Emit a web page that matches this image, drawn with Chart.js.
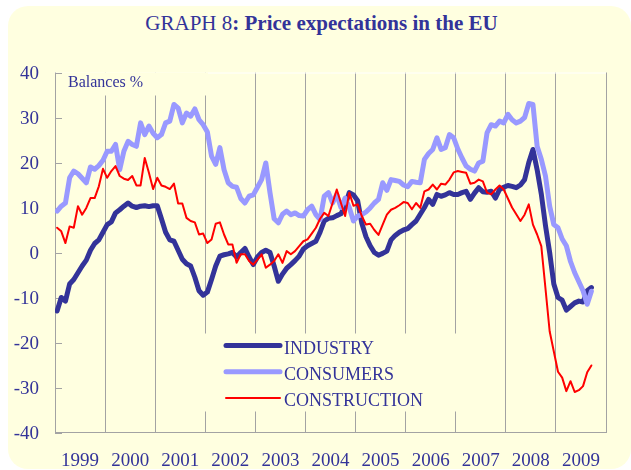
<!DOCTYPE html>
<html>
<head>
<meta charset="utf-8">
<title>Price expectations in the EU</title>
<script src="https://cdn.jsdelivr.net/npm/chart.js@4.4.0/dist/chart.umd.min.js"></script>
<style>
  html, body { margin: 0; padding: 0; background: #ffffff; }
  #wrap { position: relative; width: 631px; height: 470px; overflow: hidden; }
  #card { position: absolute; left: 8px; top: 6px; width: 623px; height: 463px; background: #ffffe0; border-radius: 20px; }
  #title { position: absolute; left: 0; top: 11px; width: 643px; text-align: center;
           font: 21px 'Liberation Serif', 'Times New Roman', serif; color: #333399; line-height: normal; }
  #title b { font-weight: bold; }
  canvas { position: absolute; left: 0; top: 0; }
</style>
</head>
<body>
<div id="wrap">
  <div id="card"></div>
  <div id="title">GRAPH 8<b>: Price expectations in the EU</b></div>
  <canvas id="chart" width="631" height="470"></canvas>
</div>
<script>
// Years on the x axis (monthly data, Jan 1999 - Sep 2009)
const years = ['1999', '2000', '2001', '2002', '2003', '2004', '2005', '2006', '2007', '2008', '2009'];
const seriesNames = ['INDUSTRY', 'CONSUMERS', 'CONSTRUCTION'];

// Balances %, one value per month
const industry = [
  -13, -10, -10.8, -7, -6, -4.5, -3, -1.7, 0.5, 2, 2.8, 4.5,
  6.2, 6.8, 8.8, 9.5, 10.3, 11, 10.3, 10, 10.3, 10.4, 10.2, 10.4,
  10.4, 7.5, 4.5, 2.8, 2.5, 0.5, -1.5, -2.5, -3, -5.5, -8.5, -9.5,
  -8.8, -6, -3, -0.8, -0.5, -0.3, 0, -1, 0, 0.9, -1, -2.7,
  -1, 0, 0.5, 0, -3, -6.4, -4.8, -3.5, -2.7, -1.8, -0.8, 0.8,
  1.5, 2, 2.5, 4.5, 7, 7.6, 7.7, 8.2, 8.6, 10.5, 13.3, 12.8,
  11.5, 6.5, 3.5, 1.5, 0, -0.6, -0.2, 0.3, 2.8, 3.8, 4.5, 5,
  5.3, 6.2, 7, 8.5, 10, 11.8, 10.7, 12.9, 12.5, 12.8, 13.3, 12.9,
  12.9, 13.3, 13.6, 11.8, 13.2, 14.4, 13.5, 13.4, 13.6, 12.1, 14, 14.5,
  14.9, 14.7, 14.4, 15, 16.2, 20, 22.9, 18.4, 13, 6, 0, -7,
  -10, -10.6, -12.8, -12, -11.2, -10.8, -11, -8.5, -7.8
];
const consumers = [
  9.2, 10.3, 11, 16.6, 18.1, 17.5, 16.5, 15.5, 19, 18.5, 19.3, 20.5,
  22.5, 22.5, 24, 18.4, 22.5, 24.7, 24, 23.6, 28.8, 26.2, 28.1, 26.5,
  25.5, 26.2, 28.8, 29.2, 32.9, 32.1, 28.8, 31, 30.3, 31.9, 29.5, 28.4,
  26.8, 21.4, 19.6, 23.3, 18.4, 15.5, 14.7, 14.5, 12, 11, 12.5, 12.8,
  14.5, 16.2, 19.9, 13.3, 7.5, 6.6, 8.5, 9.2, 8.4, 8.8, 8.2, 8.1,
  9.5, 10.3, 8.4, 7.3, 12.5, 13.3, 11, 12.9, 10, 12.1, 10, 7,
  8.1, 8.4, 9, 9.9, 11, 11.8, 15.5, 13.8, 16.2, 16, 15.8, 15,
  14.6, 15.8, 15.6, 15.5, 20.7, 22, 22.9, 25.5, 22.9, 23.3, 26.2, 25.5,
  23, 21, 19.2, 18.5, 18.1, 19.9, 20.3, 26.6, 28.4, 28.1, 29.2, 28.8,
  30.7, 29.5, 28.8, 29.2, 30, 33.1, 32.9, 23.6, 20.7, 17, 10.3, 6.2,
  5.5, 3, 1.5, -2, -4.5, -6.5, -8.5, -11.5, -8.6
];
const construction = [
  5.5, 4.7, 2.1, 5.8, 5.5, 10.3, 8.4, 9.9, 12.1, 12.1, 14.7, 18.6,
  16.6, 18.1, 19.2, 17, 16.4, 16.1, 17, 14.9, 14.9, 21, 17.7, 14.1,
  16.6, 14.9, 14.6, 14.1, 15.3, 10.9, 10.9, 7.7, 7, 6.7, 4, 4.2,
  2.1, 2.9, 6.4, 6.7, 4, 1.8, 1.8, -2.3, -0.4, -0.4, -1.9, -2.7,
  -1.6, -0.4, -3.4, -2.7, -1.9, -0.4, -2.3, 0.3, -0.4, 0.3, 1.4, 2.5,
  2.9, 4.2, 5.5, 7.5, 8.8, 8.1, 11, 14, 11, 8.1, 13.3, 10.4,
  10.7, 8.1, 6.2, 6.4, 5, 3.9, 6.2, 8.4, 9.5, 9.9, 10.5, 11.2,
  11, 9.6, 11, 9.9, 13.6, 14, 15.1, 14, 15.3, 15.1, 16.2, 17.8,
  18.1, 17.9, 17.7, 15.3, 15.5, 16.2, 15.8, 13.3, 12.9, 14, 14.9, 14,
  12, 10, 8.5, 7, 8.4, 10.7, 6.2, 4, 1.4, -8, -17.5, -22,
  -26.5, -27.8, -30.8, -28.6, -31, -30.6, -29.7, -26.6, -25.1
];

const textColor = '#333399';
const gridColor = '#a3a3a3';
const cream = '#ffffe0';
const serif = "'Liberation Serif', 'Times New Roman', serif";

const styles = [
  { color: '#333399', width: 5 },
  { color: '#9999ff', width: 5 },
  { color: '#ff0000', width: 2 }
];

// one point per month, placed in the middle of its month
const toPoints = arr => arr.map((v, i) => ({ x: i + 0.5, y: v }));

const decor = {
  id: 'decor',
  beforeDatasetsDraw(chart) {
    const { ctx, chartArea: a, scales: { x, y } } = chart;
    ctx.save();

    // white top edge of the plot
    ctx.strokeStyle = '#ffffff';
    ctx.lineWidth = 1;
    ctx.beginPath();
    ctx.moveTo(a.left, a.top + 0.5);
    ctx.lineTo(a.right, a.top + 0.5);
    ctx.stroke();

    // "Balances %" label box
    ctx.fillStyle = cream;
    ctx.fillRect(a.left + 1, a.top, 152, 23);
    ctx.fillStyle = textColor;
    ctx.font = '16px ' + serif;
    ctx.textBaseline = 'alphabetic';
    ctx.fillText('Balances %', a.left + 13, a.top + 14);

    // inward ticks on the y axis
    ctx.strokeStyle = gridColor;
    y.ticks.forEach(t => {
      const py = Math.round(y.getPixelForValue(t.value)) + 0.5;
      ctx.beginPath();
      ctx.moveTo(a.left, py);
      ctx.lineTo(a.left + 7, py);
      ctx.stroke();
    });

    // year labels, centred in each year
    ctx.font = '19px ' + serif;
    ctx.textAlign = 'center';
    years.forEach((yr, i) => {
      ctx.fillText(yr, x.getPixelForValue(i * 12 + 6), a.bottom + 33.5);
    });
    ctx.textAlign = 'left';

    // legend box
    const lx = a.left + 145, ly = a.top + 261;
    ctx.fillStyle = cream;
    ctx.fillRect(lx, ly, 270, 78);
    ctx.font = '18px ' + serif;
    chart.data.datasets.forEach((ds, i) => {
      const rowY = ly + 12 + i * 26.3;
      ctx.strokeStyle = ds.borderColor;
      ctx.lineWidth = ds.borderWidth;
      ctx.lineCap = 'round';
      ctx.beginPath();
      ctx.moveTo(lx + 26, rowY);
      ctx.lineTo(lx + 80, rowY);
      ctx.stroke();
      ctx.fillStyle = textColor;
      ctx.fillText(ds.label, lx + 84, rowY + 8);
    });
    ctx.restore();
  }
};

new Chart(document.getElementById('chart'), {
  type: 'line',
  data: {
    datasets: [industry, consumers, construction].map((arr, i) => ({
      label: seriesNames[i],
      data: toPoints(arr),
      borderColor: styles[i].color,
      borderWidth: styles[i].width,
      pointRadius: 0,
      tension: 0,
      borderJoinStyle: 'round',
      borderCapStyle: 'round',
      order: 3 - i
    }))
  },
  options: {
    responsive: false,
    animation: false,
    devicePixelRatio: 1,
    layout: { padding: { top: 72.5, right: 25, left: 0, bottom: 0 } },
    plugins: {
      legend: { display: false },
      tooltip: { enabled: false },
      title: { display: false }
    },
    scales: {
      x: {
        type: 'linear',
        min: 0,
        max: years.length * 12,
        ticks: { display: false, stepSize: 12 },
        grid: { color: gridColor, drawTicks: false },
        border: { color: gridColor },
        afterFit: s => { s.height = 37.5; }
      },
      y: {
        min: -40,
        max: 40,
        ticks: {
          stepSize: 10,
          padding: 16,
          labelOffset: 1.5,
          color: textColor,
          font: { family: serif, size: 19 }
        },
        grid: { drawOnChartArea: false, drawTicks: false, color: gridColor },
        border: { color: gridColor },
        afterFit: s => { s.width = 55; }
      }
    }
  },
  plugins: [decor]
});
</script>
</body>
</html>
